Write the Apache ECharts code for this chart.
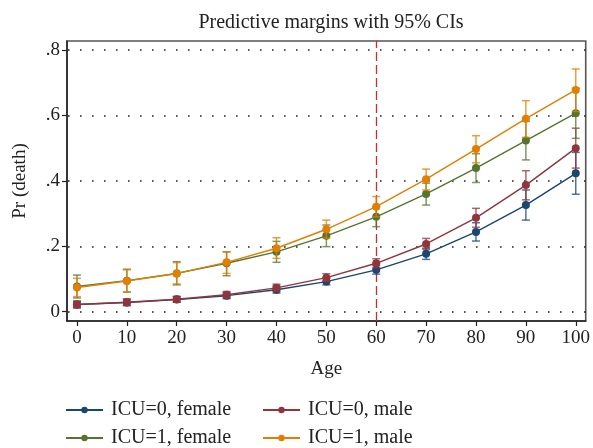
<!DOCTYPE html>
<html>
<head>
<meta charset="utf-8">
<script src="https://cdn.jsdelivr.net/npm/echarts@6/dist/echarts.min.js"></script>
<style>
    html, body { margin: 0; padding: 0; background: #fff; }
    #main { width: 593px; height: 448px; }
</style>
</head>
<body>
<div id="main"></div>
<script>
// ages on the x axis
var ages = [0, 10, 20, 30, 40, 50, 60, 70, 80, 90, 100];
var xTicks = [0, 10, 20, 30, 40, 50, 60, 70, 80, 90, 100];
var yTicks = [0, 0.2, 0.4, 0.6, 0.8];

// ICU=0, female
var icu0Female = [0.022, 0.028, 0.037, 0.049, 0.067, 0.092, 0.128, 0.177, 0.244, 0.326, 0.423];
var icu0FemaleLo = [0.012, 0.019, 0.029, 0.040, 0.057, 0.082, 0.115, 0.160, 0.216, 0.280, 0.359];
var icu0FemaleHi = [0.032, 0.038, 0.046, 0.058, 0.078, 0.103, 0.141, 0.194, 0.272, 0.372, 0.487];
// ICU=0, male
var icu0Male = [0.022, 0.029, 0.038, 0.052, 0.073, 0.104, 0.148, 0.207, 0.287, 0.387, 0.500];
var icu0MaleLo = [0.012, 0.019, 0.029, 0.042, 0.062, 0.092, 0.134, 0.190, 0.258, 0.342, 0.439];
var icu0MaleHi = [0.032, 0.039, 0.047, 0.062, 0.084, 0.116, 0.162, 0.224, 0.316, 0.431, 0.561];
// ICU=1, female
var icu1Female = [0.077, 0.095, 0.117, 0.148, 0.183, 0.232, 0.290, 0.360, 0.439, 0.523, 0.607];
var icu1FemaleLo = [0.042, 0.060, 0.082, 0.110, 0.151, 0.199, 0.260, 0.326, 0.395, 0.464, 0.530];
var icu1FemaleHi = [0.112, 0.130, 0.153, 0.183, 0.215, 0.265, 0.320, 0.393, 0.483, 0.582, 0.683];
// ICU=1, male
var icu1Male = [0.074, 0.094, 0.117, 0.151, 0.194, 0.252, 0.321, 0.405, 0.497, 0.590, 0.678];
var icu1MaleLo = [0.046, 0.060, 0.085, 0.117, 0.163, 0.225, 0.290, 0.372, 0.455, 0.533, 0.612];
var icu1MaleHi = [0.102, 0.128, 0.150, 0.183, 0.226, 0.280, 0.352, 0.436, 0.538, 0.645, 0.742];

var cutAge = 60;

var FONT = 'Liberation Serif';

var groups = [
    { name: 'ICU=0, female', color: '#1a476f', v: icu0Female, lo: icu0FemaleLo, hi: icu0FemaleHi },
    { name: 'ICU=0, male', color: '#90353b', v: icu0Male, lo: icu0MaleLo, hi: icu0MaleHi },
    { name: 'ICU=1, female', color: '#55752f', v: icu1Female, lo: icu1FemaleLo, hi: icu1FemaleHi },
    { name: 'ICU=1, male', color: '#e37e00', v: icu1Male, lo: icu1MaleLo, hi: icu1MaleHi }
];

// error bar with caps
function errorBar(color) {
    return function (params, api) {
        var x = api.value(0);
        var top = api.coord([x, api.value(2)]);
        var bot = api.coord([x, api.value(1)]);
        var hw = 4;
        var style = { stroke: color, lineWidth: 1.5, opacity: 0.75 };
        return {
            type: 'group',
            children: [
                { type: 'line', shape: { x1: top[0], y1: top[1], x2: bot[0], y2: bot[1] }, style: style },
                { type: 'line', shape: { x1: top[0] - hw, y1: top[1], x2: top[0] + hw, y2: top[1] }, style: style },
                { type: 'line', shape: { x1: bot[0] - hw, y1: bot[1], x2: bot[0] + hw, y2: bot[1] }, style: style }
            ]
        };
    };
}

var series = [];
groups.forEach(function (g, i) {
    var ci = ages.map(function (a, k) { return [a, g.lo[k], g.hi[k]]; });
    series.push({
        name: g.name + ' CI',
        type: 'custom',
        renderItem: errorBar(g.color),
        data: ci,
        z: 3 + i * 2,
        silent: true
    });
    var s = {
        name: g.name,
        type: 'line',
        data: ages.map(function (a, k) { return [a, g.v[k]]; }),
        symbol: 'circle',
        symbolSize: 8,
        lineStyle: { color: g.color, width: 1.4 },
        itemStyle: { color: g.color },
        z: 4 + i * 2
    };
    if (i === 0) {
        // dotted gridlines + red reference line at age 60
        var ml = yTicks.map(function (t) {
            return { yAxis: t, lineStyle: { color: '#222', width: 1.6, type: [1.6, 10.4], dashOffset: -1 } };
        });
        ml.push({ xAxis: cutAge, lineStyle: { color: '#d42a2a', width: 1.3, type: [9, 4] } });
        s.markLine = {
            silent: true,
            symbol: 'none',
            label: { show: false },
            z: 1,
            data: ml
        };
    }
    series.push(s);
});

// one legend per slot so the 2x2 layout lines up
function legendAt(name, left, top) {
    return {
        data: [name],
        left: left, top: top,
        padding: 0,
        itemWidth: 37, itemHeight: 8,
        lineStyle: { width: 2 },
        textStyle: { fontFamily: FONT, fontSize: 20, color: '#222', padding: [0, 0, 0, 3] }
    };
}

var myChart = echarts.init(document.getElementById('main'));
var option = {
    animation: false,
    backgroundColor: '#fff',
    textStyle: { fontFamily: FONT },
    title: {
        text: 'Predictive margins with 95% CIs',
        left: 326,
        textAlign: 'center',
        top: 8,
        textStyle: { fontFamily: FONT, fontSize: 20, fontWeight: 'normal', color: '#222' }
    },
    legend: [
        legendAt(groups[0].name, 65, 400),
        legendAt(groups[1].name, 262, 400),
        legendAt(groups[2].name, 65, 428),
        legendAt(groups[3].name, 262, 428)
    ],
    grid: {
        left: 67, right: 7, top: 41, bottom: 127,
        show: true,
        borderColor: '#555',
        borderWidth: 1.6
    },
    xAxis: {
        type: 'value',
        min: -2, max: 102,
        name: 'Age',
        nameLocation: 'middle',
        nameGap: 39,
        nameTextStyle: { fontFamily: FONT, fontSize: 19, color: '#222' },
        axisLine: { show: true, onZero: false, lineStyle: { color: '#222', width: 1.5 } },
        axisTick: { show: true, customValues: xTicks, length: 5, lineStyle: { color: '#222', width: 1.2 } },
        axisLabel: { customValues: xTicks, fontFamily: FONT, fontSize: 19, color: '#222', margin: 8 },
        splitLine: { show: false }
    },
    yAxis: {
        type: 'value',
        min: -0.0284, max: 0.8275,
        name: 'Pr (death)',
        nameLocation: 'middle',
        nameGap: 37,
        nameRotate: 90,
        nameTextStyle: { fontFamily: FONT, fontSize: 19, color: '#222' },
        axisLine: { show: true, onZero: false, lineStyle: { color: '#222', width: 1.5 } },
        axisTick: { show: true, customValues: yTicks, length: 5, lineStyle: { color: '#222', width: 1.2 } },
        axisLabel: {
            customValues: yTicks,
            fontFamily: FONT, fontSize: 19, color: '#222', margin: 7,
            formatter: function (v) {
                if (Math.abs(v) < 1e-9) return '0';
                return (Math.round(v * 10) / 10).toString().replace(/^0\./, '.');
            }
        },
        splitLine: { show: false }
    },
    series: series
};
myChart.setOption(option);
</script>
</body>
</html>
